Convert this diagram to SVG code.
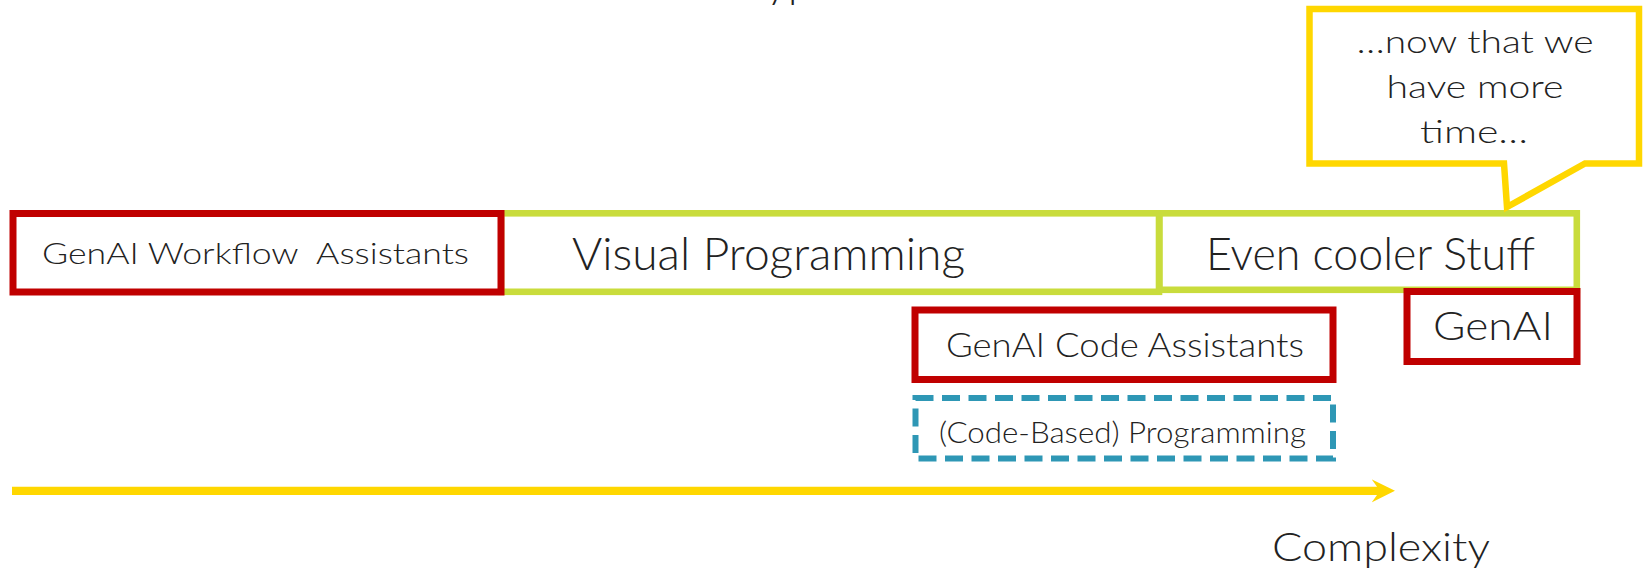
<svg xmlns="http://www.w3.org/2000/svg" width="1645" height="574" viewBox="0 0 1645 574">
  <style>
    .t { font-family: Lato, "Noto Sans", "DejaVu Sans", sans-serif; fill: #222222; font-weight: 300; }
    .red { fill: #ffffff; stroke: #C00000; stroke-width: 7; }
    .green { fill: #ffffff; stroke: #C9DC3C; stroke-width: 6.6; }
    .dash { fill: none; stroke: #2E97B5; stroke-width: 6; stroke-dasharray: 18 8.5; }
    .bubble { fill: #ffffff; stroke: #FFD700; stroke-width: 6.5; stroke-linejoin: miter; }
    .axis { stroke: #FFD700; stroke-width: 8.3; fill: none; }
  </style>
  <defs>
    <marker id="ah" markerUnits="userSpaceOnUse" markerWidth="26" markerHeight="26" viewBox="0 0 26 26" refX="5.3" refY="11.5" orient="auto">
      <path d="M0,0 L23.3,11.5 L0,23 L5.3,15.6 L5.3,7.4 Z" fill="#FFD700"/>
    </marker>
  </defs>

  <rect width="1645" height="574" fill="#ffffff"/>

  <g id="title-fragment">
    <text class="t" x="766" y="-3" font-size="44">yp</text>
  </g>

  <g id="visual-programming">
    <rect class="green" x="501" y="213.3" width="658" height="78.5"/>
    <text class="t" x="572" y="270" font-size="46" textLength="393" lengthAdjust="spacingAndGlyphs">Visual Programming</text>
  </g>

  <g id="even-cooler-stuff">
    <rect class="green" x="1159.5" y="213.3" width="417.3" height="76.5"/>
    <text class="t" x="1206" y="270" font-size="46" textLength="329" lengthAdjust="spacingAndGlyphs">Even cooler Stuff</text>
  </g>

  <g id="genai-workflow-assistants">
    <rect class="red" x="13" y="213.5" width="488" height="78.5"/>
    <text class="t" x="42" y="264" font-size="30" textLength="427" lengthAdjust="spacingAndGlyphs" xml:space="preserve">GenAI Workflow  Assistants</text>
  </g>

  <g id="genai">
    <rect class="red" x="1407" y="291.5" width="170" height="70"/>
    <text class="t" x="1433" y="340" font-size="39" textLength="120" lengthAdjust="spacingAndGlyphs">GenAI</text>
  </g>

  <g id="genai-code-assistants">
    <rect class="red" x="915" y="310" width="418" height="69.5"/>
    <text class="t" x="946" y="357" font-size="33" textLength="358" lengthAdjust="spacingAndGlyphs">GenAI Code Assistants</text>
  </g>

  <g id="code-based-programming">
    <rect class="dash" x="915.5" y="398" width="417.5" height="60.5"/>
    <text class="t" x="939" y="443" font-size="30" textLength="367" lengthAdjust="spacingAndGlyphs">(Code-Based) Programming</text>
  </g>

  <g id="speech-bubble">
    <path class="bubble" d="M1309.5,9 H1639 V163.5 H1585 L1507,207 L1504,163.5 H1309.5 Z"/>
    <text class="t" x="1475" y="53" font-size="31" text-anchor="middle" textLength="237" lengthAdjust="spacingAndGlyphs">…now that we</text>
    <text class="t" x="1475" y="98" font-size="31" text-anchor="middle" textLength="177" lengthAdjust="spacingAndGlyphs">have more</text>
    <text class="t" x="1474" y="143" font-size="31" text-anchor="middle" textLength="108" lengthAdjust="spacingAndGlyphs">time…</text>
  </g>

  <g id="connectors">
    <line class="axis" x1="12" y1="490.8" x2="1377" y2="490.8" marker-end="url(#ah)"/>
  </g>

  <g id="complexity-label">
    <text class="t" x="1272" y="561" font-size="39" textLength="218" lengthAdjust="spacingAndGlyphs">Complexity</text>
  </g>
</svg>
